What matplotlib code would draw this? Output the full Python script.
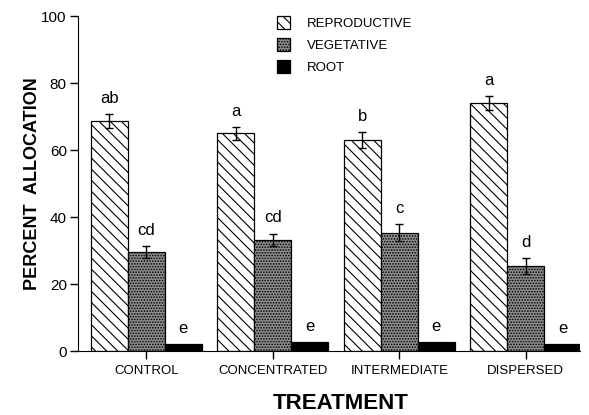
import numpy as np
import matplotlib
matplotlib.use('Agg')
from matplotlib import pyplot as plt

plt.rcParams['font.family'] = ['Liberation Sans', 'DejaVu Sans']
plt.rcParams['hatch.linewidth'] = 0.8

# %% dados
tratamentos = ['CONTROL', 'CONCENTRATED', 'INTERMEDIATE', 'DISPERSED']
series = ['REPRODUCTIVE', 'VEGETATIVE', 'ROOT']

reprodutivo = [68.7, 65.0, 63.0, 74.1]
vegetativo = [29.6, 33.3, 35.3, 25.4]
raiz = [2.0, 2.6, 2.8, 2.1]

erro_rep = [2.0, 2.0, 2.5, 2.1]
erro_veg = [1.8, 1.8, 2.5, 2.3]
erro_raiz = [0, 0, 0, 0]

letras_rep = ['ab', 'a', 'b', 'a']
letras_veg = ['cd', 'cd', 'c', 'd']
letras_raiz = ['e', 'e', 'e', 'e']

# %% grafico
fig = plt.figure(figsize=(5.89, 4.15), dpi=100)
ax = fig.add_axes([0.1324, 0.154, 0.8526, 0.807])

x = np.arange(len(tratamentos))
w = 0.293

estilos = [
    dict(facecolor='white', hatch='\\\\\\'),
    dict(facecolor='#8e8e8e', hatch='......'),
    dict(facecolor='black', hatch=None),
]
valores = [reprodutivo, vegetativo, raiz]
erros = [erro_rep, erro_veg, erro_raiz]
letras = [letras_rep, letras_veg, letras_raiz]

for i, (nome, val, err, let, est) in enumerate(zip(series, valores, erros, letras, estilos)):
    pos = x + (i - 1) * w
    ax.bar(pos, val, w, edgecolor='black', linewidth=0.9, label=nome, **est)
    err_plot = [e if e > 0 else np.nan for e in err]
    ax.errorbar(pos, val, yerr=err_plot, fmt='none', ecolor='black',
                elinewidth=1, capsize=3, capthick=1)
    for p, v, e, l in zip(pos, val, err, let):
        ax.annotate(l, (p, v + e), xytext=(0, 8), textcoords='offset points',
                    ha='center', va='baseline', fontsize=12)

ax.set_xlim(-0.54, 3.43)
ax.set_ylim(0, 100)
ax.set_yticks([0, 20, 40, 60, 80, 100])
ax.set_xticks(x)
ax.set_xticklabels(tratamentos)
ax.tick_params(axis='y', labelsize=11, length=6, width=1, pad=2)
ax.tick_params(axis='x', labelsize=9.5, length=6, width=1, pad=4)
ax.spines['top'].set_visible(False)
ax.spines['right'].set_visible(False)

ax.set_ylabel('PERCENT  ALLOCATION', fontsize=13, fontweight='bold', labelpad=0)
fig.text(341 / 589, 1.5 / 415, 'TREATMENT', fontsize=16, fontweight='bold',
         ha='center', va='bottom')

ax.legend(loc='upper left', bbox_to_anchor=(277 / 589, 1 - 16 / 415),
          bbox_transform=fig.transFigure, frameon=False, fontsize=9.5,
          handlelength=1.0, handleheight=1.1, handletextpad=1.3,
          labelspacing=0.62, borderpad=0, borderaxespad=0)

fig.savefig('out.png', dpi=100)
